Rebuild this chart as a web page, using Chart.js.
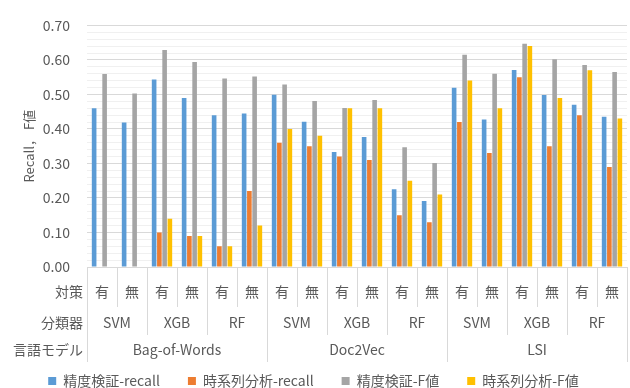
<!DOCTYPE html>
<html>
<head>
<meta charset="utf-8">
<script src="https://cdn.jsdelivr.net/npm/chart.js@4"></script>
<style>
  html, body { margin: 0; padding: 0; background: #fff; }
  #wrap { width: 630px; height: 388px; position: relative; }
</style>
</head>
<body>
<div id="wrap"><canvas id="chart"></canvas></div>
<script>
// Category hierarchy: language model > classifier > countermeasure
const languageModels = ['Bag-of-Words', 'Doc2Vec', 'LSI'];
const classifiers = ['SVM', 'XGB', 'RF'];
const countermeasures = ['有', '無'];
const rowHeaders = ['対策', '分類器', '言語モデル'];

const seriesNames = ['精度検証-recall', '時系列分析-recall', '精度検証-F値', '時系列分析-F値'];

const validationRecall = [0.460, 0.419, 0.543, 0.490, 0.440, 0.445, 0.499, 0.421, 0.333, 0.377, 0.225, 0.191, 0.519, 0.427, 0.571, 0.498, 0.470, 0.435];
const timeSeriesRecall = [0.00, 0.00, 0.10, 0.09, 0.06, 0.22, 0.36, 0.35, 0.32, 0.31, 0.15, 0.13, 0.42, 0.33, 0.55, 0.35, 0.44, 0.29];
const validationF = [0.559, 0.503, 0.629, 0.594, 0.546, 0.552, 0.529, 0.481, 0.461, 0.484, 0.347, 0.301, 0.615, 0.560, 0.647, 0.602, 0.585, 0.565];
const timeSeriesF = [0.00, 0.00, 0.14, 0.09, 0.06, 0.12, 0.40, 0.38, 0.46, 0.46, 0.25, 0.21, 0.54, 0.46, 0.64, 0.49, 0.57, 0.43];

const yAxisTitle = 'Recall， F値';
const yMax = 0.70;
const yMinorStep = 0.02;

const seriesColors = ['#5B9BD5', '#ED7D31', '#A5A5A5', '#FFC000'];
const textColor = '#595959';
const lineColor = '#D9D9D9';
const fontFamily = '"Noto Sans CJK JP", "Noto Sans", sans-serif';

// Flatten the hierarchy into one category per bar group
const categories = [];
languageModels.forEach(m => classifiers.forEach(c => countermeasures.forEach(t => categories.push([m, c, t]))));

const isMajor = v => Math.round(v * 100) % 10 === 0;

// Draws the three label rows under the x axis with their separators
const multiLevelAxis = {
  id: 'multiLevelAxis',
  afterDraw(chart) {
    const { ctx } = chart;
    const xs = chart.scales.x;
    const base = chart.chartArea.bottom;
    const n = categories.length;
    const half = (xs.getPixelForValue(1) - xs.getPixelForValue(0)) / 2;
    const edge = i => (i === n ? xs.getPixelForValue(n - 1) + half : xs.getPixelForValue(i) - half);
    const perClassifier = countermeasures.length;
    const perModel = classifiers.length * perClassifier;
    const rowBottoms = [40, 68, 95];
    const rowCenters = [25, 56, 83];

    ctx.save();
    ctx.strokeStyle = lineColor;
    ctx.lineWidth = 1;
    for (let k = 0; k <= n; k++) {
      const level = k % perModel === 0 ? 2 : (k % perClassifier === 0 ? 1 : 0);
      const px = Math.round(edge(k)) + 0.5;
      ctx.beginPath();
      ctx.moveTo(px, base);
      ctx.lineTo(px, base + rowBottoms[level]);
      ctx.stroke();
    }

    ctx.fillStyle = textColor;
    ctx.font = '14px ' + fontFamily;
    ctx.textAlign = 'center';
    ctx.textBaseline = 'middle';
    categories.forEach((cat, i) => {
      ctx.fillText(cat[2], xs.getPixelForValue(i), base + rowCenters[0]);
    });
    for (let g = 0; g < n / perClassifier; g++) {
      const cx = (edge(g * perClassifier) + edge((g + 1) * perClassifier)) / 2;
      ctx.fillText(categories[g * perClassifier][1], cx, base + rowCenters[1]);
    }
    for (let g = 0; g < n / perModel; g++) {
      const cx = (edge(g * perModel) + edge((g + 1) * perModel)) / 2;
      ctx.fillText(categories[g * perModel][0], cx, base + rowCenters[2]);
    }

    ctx.textAlign = 'right';
    rowHeaders.forEach((h, r) => ctx.fillText(h, edge(0) - 4, base + rowCenters[r]));
    ctx.restore();
  }
};

const seriesData = [validationRecall, timeSeriesRecall, validationF, timeSeriesF];

new Chart(document.getElementById('chart'), {
  type: 'bar',
  data: {
    labels: categories.map(c => c.join(' / ')),
    datasets: seriesNames.map((name, i) => ({
      label: name,
      data: seriesData[i],
      backgroundColor: seriesColors[i],
      borderWidth: 0,
      categoryPercentage: 0.7,
      barPercentage: 0.88
    }))
  },
  options: {
    responsive: true,
    maintainAspectRatio: false,
    animation: false,
    layout: { padding: { top: 18, right: 3, left: 0, bottom: -10 } },
    plugins: {
      tooltip: { enabled: false },
      legend: {
        position: 'bottom',
        labels: {
          boxWidth: 8,
          boxHeight: 8,
          padding: 28,
          color: textColor,
          font: { family: fontFamily, size: 14 }
        }
      }
    },
    scales: {
      x: {
        grid: { display: false },
        border: { display: false },
        ticks: { display: false },
        afterFit(scale) { scale.height = 79; }
      },
      y: {
        min: 0,
        max: yMax,
        border: { display: false },
        grid: {
          drawTicks: false,
          color: ctx => (isMajor(ctx.tick.value) ? '#D9D9D9' : '#F0F0F0')
        },
        ticks: {
          stepSize: yMinorStep,
          autoSkip: false,
          maxTicksLimit: 100,
          padding: 17,
          color: textColor,
          font: { family: fontFamily, size: 14 },
          callback: v => (isMajor(v) ? v.toFixed(2) : '')
        },
        title: {
          display: true,
          text: yAxisTitle,
          color: textColor,
          font: { family: fontFamily, size: 13 },
          padding: { top: 21, bottom: 0 }
        },
        afterFit(scale) { scale.width = 87; }
      }
    }
  },
  plugins: [multiLevelAxis]
});
</script>
</body>
</html>
